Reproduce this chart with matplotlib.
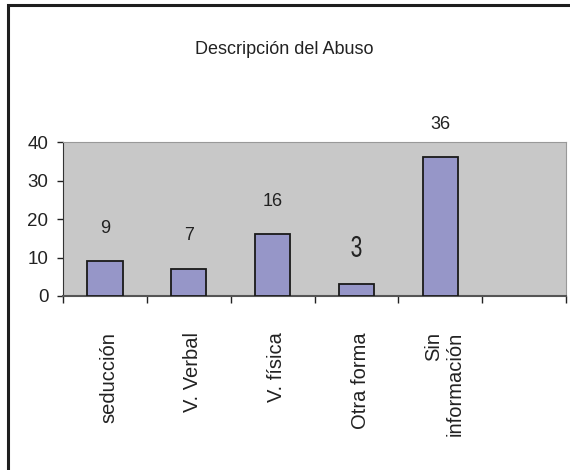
import matplotlib
matplotlib.use('Agg')
import matplotlib.pyplot as plt
from matplotlib.font_manager import FontProperties
from matplotlib.patches import Rectangle, PathPatch
from matplotlib.textpath import TextPath
from matplotlib.transforms import Affine2D

categories = ['seducción', 'V. Verbal', 'V. física', 'Otra forma', 'Sin\ninformación', '']
values = [9, 7, 16, 3, 36]
yticks = [0, 10, 20, 30, 40]
title = 'Descripción del Abuso'

plt.rcParams['font.family'] = ['Liberation Sans', 'DejaVu Sans']

fig = plt.figure(figsize=(5.7, 4.7), dpi=100)
ax = fig.add_axes([63 / 570, 1 - 296 / 470, 503 / 570, 154 / 470])
ax.set_facecolor('#c8c8c8')

x = list(range(len(values)))
ax.bar(x, values, width=0.42, color='#9696c8', edgecolor='#1a1a1a', linewidth=1.3, zorder=3)

ax.set_xlim(-0.5, len(categories) - 0.5)
ax.set_ylim(0, 40)


def narrow_label(s, xi, v, dy_px, w_px, h_px):
    # the "3" in the original is a tall condensed glyph
    tp = TextPath((0, 0), s, size=1, prop=FontProperties(family='Liberation Sans'))
    ext = tp.get_extents()
    sx = w_px / ext.width
    sy = h_px / ext.height
    px, py = ax.transData.transform((xi, v))
    t = (Affine2D().translate(-(ext.x0 + ext.x1) / 2, -(ext.y0 + ext.y1) / 2)
         .scale(sx, sy).translate(px, py + dy_px))
    ax.add_artist(PathPatch(tp, transform=t, facecolor='#222222', edgecolor='none',
                            clip_on=False, zorder=4))


for xi, v in zip(x, values):
    if v == 3:
        narrow_label(str(v), xi, v, 38, 10, 21)
    else:
        ax.annotate(str(v), (xi, v), xytext=(0, 24), textcoords='offset points',
                    ha='center', va='center', fontsize=13, color='#222222')

ax.set_yticks(yticks)
ax.tick_params(axis='y', direction='out', length=4.5, width=1, pad=6, labelsize=13.5,
               colors='#222222')

ax.set_xticks([i - 0.5 for i in range(len(categories) + 1)])
ax.set_xticklabels([])
ax.tick_params(axis='x', which='major', direction='out', length=5, width=1, color='#222222')
ax.set_xticks([i + 0.05 for i in range(len(categories))], minor=True)
ax.set_xticklabels(categories, minor=True, rotation=90, va='top', ha='center',
                   multialignment='right', fontsize=14.5, color='#222222')
ax.tick_params(axis='x', which='minor', length=0, pad=26)

ax.spines['left'].set_color('#333333')
ax.spines['bottom'].set_color('#555555')
ax.spines['bottom'].set_linewidth(1.5)
ax.spines['top'].set_color('#999999')
ax.spines['right'].set_color('#999999')

fig.text(0.499, 1 - 49 / 470, title, ha='center', va='center', fontsize=13, color='#222222')

fig.add_artist(Rectangle((7.5 / 570, -0.2), 1.5, 1.2 - 4.5 / 470,
                         transform=fig.transFigure, fill=False,
                         edgecolor='#1e1e1e', linewidth=2.2))

fig.savefig('out.png', dpi=100)
